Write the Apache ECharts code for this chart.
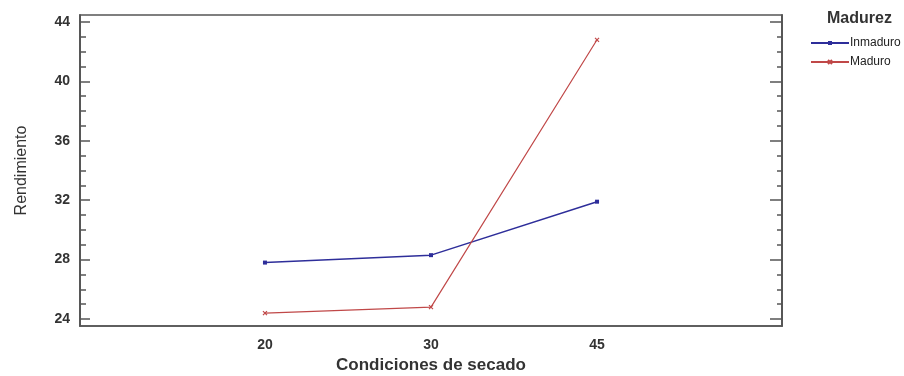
<!DOCTYPE html>
<html>
<head>
<meta charset="utf-8">
<script src="https://cdn.jsdelivr.net/npm/echarts@6/dist/echarts.min.js"></script>
<style>
  html, body { margin: 0; padding: 0; background: #fff; }
  #chart { width: 904px; height: 376px; }
</style>
</head>
<body>
<div id="chart"></div>
<script>
// Drying conditions on the x axis, yield per ripeness group
const categories = ['20', '30', '45'];
const inmaduro = [27.8, 28.3, 31.9];
const maduro = [24.4, 24.8, 42.8];
const yMajorTicks = [24, 28, 32, 36, 40, 44];
const yMinorTicks = [25, 26, 27, 29, 30, 31, 33, 34, 35, 37, 38, 39, 41, 42, 43];

const yMin = 23.53, yMax = 44.47;
const xMin = -0.114, xMax = 4.114;
const frame = '#555';
const txt = '#333';
const font = 'Arial, Liberation Sans, sans-serif';

function toPoints(vals) {
  return vals.map((v, i) => [i + 1, v]);
}

function yAxisDef(pos, ticks, len, labels) {
  return {
    type: 'value', position: pos, min: yMin, max: yMax,
    axisLine: { show: true, onZero: false, lineStyle: { color: frame, width: 1.5 } },
    splitLine: { show: false },
    axisTick: { show: true, inside: true, length: len, customValues: ticks,
                lineStyle: { color: frame, width: 1.5 } },
    axisLabel: labels ? {
      show: true, customValues: ticks, margin: 10,
      fontFamily: font, fontSize: 14, fontWeight: 'bold', color: txt
    } : { show: false }
  };
}

const chart = echarts.init(document.getElementById('chart'), null, { renderer: 'canvas' });
const yAxes = [
  yAxisDef('left', yMajorTicks, 10, true),
  yAxisDef('left', yMinorTicks, 6, false),
  yAxisDef('right', yMajorTicks, 12, false),
  yAxisDef('right', yMinorTicks, 5, false)
];
yAxes[0].name = 'Rendimiento';
yAxes[0].nameLocation = 'middle';
yAxes[0].nameGap = 50;
yAxes[0].nameTextStyle = { fontFamily: font, fontSize: 16, color: txt };

chart.setOption({
  animation: false,
  backgroundColor: '#fff',
  title: {
    text: 'Madurez', left: 827, top: 11, padding: 0,
    textStyle: { fontFamily: font, fontSize: 16, fontWeight: 'bold', color: txt }
  },
  legend: {
    orient: 'vertical', left: 810, top: 37, padding: 0,
    itemWidth: 38, itemHeight: 5, itemGap: 7,
    textStyle: { fontFamily: 'Liberation Sans Narrow, Arial Narrow, sans-serif', fontSize: 12, color: '#222', padding: [0, 0, 0, -4] },
    data: ['Inmaduro', 'Maduro']
  },
  grid: {
    left: 80, top: 15, right: 122, bottom: 50,
    outerBoundsMode: 'none',
    show: true, borderColor: frame, borderWidth: 1.5, backgroundColor: 'transparent'
  },
  xAxis: {
    type: 'value', min: xMin, max: xMax,
    name: 'Condiciones de secado', nameLocation: 'middle', nameGap: 30,
    nameTextStyle: { fontFamily: font, fontSize: 17, fontWeight: 'bold', color: txt },
    axisLine: { show: true, onZero: false, lineStyle: { color: frame, width: 1.5 } },
    axisTick: { show: false },
    splitLine: { show: false },
    axisLabel: {
      customValues: [1, 2, 3], margin: 12,
      formatter: v => categories[Math.round(v) - 1] || '',
      fontFamily: font, fontSize: 14, fontWeight: 'bold', color: txt
    }
  },
  yAxis: yAxes,
  series: [
    {
      name: 'Inmaduro', type: 'line', data: toPoints(inmaduro),
      symbol: 'rect', symbolSize: 4,
      lineStyle: { color: '#2e2e9a', width: 1.5 },
      itemStyle: { color: '#2e2e9a' }
    },
    {
      name: 'Maduro', type: 'line', data: toPoints(maduro),
      symbol: 'path://M0,0 L10,10 M10,0 L0,10', symbolSize: 4,
      lineStyle: { color: '#c04848', width: 1.2 },
      itemStyle: { color: '#c04848', borderColor: '#c04848', borderWidth: 1.2 }
    }
  ]
});
</script>
</body>
</html>
